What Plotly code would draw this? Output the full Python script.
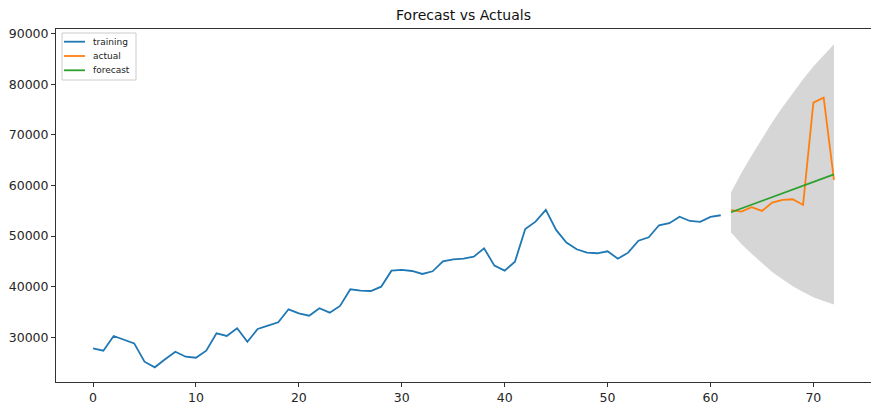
import plotly.graph_objects as go

# ---- data ----
train_x = list(range(0, 62))
train_y = [27800, 27350, 30260, 29600, 28800, 25180, 24070, 25650, 27150, 26170,
           25970, 27350, 30790, 30260, 31780, 29130, 31640, 32290, 32960, 35530,
           34740, 34270, 35730, 34860, 36200, 39490, 39210, 39150, 40000, 43160,
           43300, 43100, 42510, 43040, 45020, 45410, 45530, 45930, 47590, 44150,
           43160, 44940, 51400, 52850, 55160, 51210, 48700, 47390, 46720, 46600,
           46990, 45530, 46720, 49090, 49760, 52130, 52530, 53830, 52980, 52790,
           53780, 54110]

test_x = list(range(62, 73))
actual_y = [55100, 54820, 55690, 54960, 56600, 57130, 57270, 56150, 76360, 77350, 61090]
forecast_y = [54700, 55450, 56200, 56950, 57700, 58450, 59200, 59950, 60700, 61450, 62200]
upper_y = [58650, 62450, 65900, 69250, 72500, 75450, 78300, 80950, 83500, 85750, 87900]
lower_y = [50750, 48450, 46500, 44650, 42900, 41450, 40100, 38950, 37900, 37150, 36500]

x_ticks = [0, 10, 20, 30, 40, 50, 60, 70]
y_ticks = [30000, 40000, 50000, 60000, 70000, 80000, 90000]

series_names = ["training", "actual", "forecast"]
series_colors = ["#1f77b4", "#ff7f0e", "#2ca02c"]

FONT = "DejaVu Sans"
AX = "#333333"

fig = go.Figure()

# confidence band
fig.add_trace(go.Scatter(x=test_x, y=lower_y, mode="lines", line=dict(width=0),
                         showlegend=False, hoverinfo="skip"))
fig.add_trace(go.Scatter(x=test_x, y=upper_y, mode="lines", line=dict(width=0),
                         fill="tonexty", fillcolor="rgb(214,214,214)",
                         showlegend=False, hoverinfo="skip"))

for xs, ys, nm, col in [(train_x, train_y, series_names[0], series_colors[0]),
                        (test_x, actual_y, series_names[1], series_colors[1]),
                        (test_x, forecast_y, series_names[2], series_colors[2])]:
    fig.add_trace(go.Scatter(x=xs, y=ys, mode="lines", name=nm,
                             line=dict(color=col, width=1.8), showlegend=False))

axis_common = dict(showline=True, mirror=True, linecolor=AX, linewidth=1,
                   ticks="outside", ticklen=4, tickcolor=AX, tickwidth=1,
                   showgrid=False, zeroline=False,
                   tickfont=dict(family=FONT, size=12.5, color="#262626"))

fig.update_xaxes(range=[-3.6, 75.6], tickvals=x_ticks, **axis_common)
fig.update_yaxes(range=[21170, 90900], tickvals=y_ticks, ticktext=[str(v) for v in y_ticks],
                 **axis_common)

# compact matplotlib-style legend drawn in paper coordinates
PW, PH = 815.0, 353.0   # plot area size in px
def px_x(dx):  # px offset from plot left -> paper
    return dx / PW
def px_y(dy):  # px offset from plot top -> paper
    return 1 - dy / PH

shapes = [dict(type="rect", xref="paper", yref="paper",
               x0=px_x(6), x1=px_x(80), y0=px_y(51), y1=px_y(4),
               line=dict(color="#cccccc", width=1), fillcolor="rgba(255,255,255,0.85)",
               layer="above")]
annotations = []
for i, (nm, col) in enumerate(zip(series_names, series_colors)):
    yy = px_y(12.7 + i * 14.3)
    shapes.append(dict(type="line", xref="paper", yref="paper",
                       x0=px_x(8), x1=px_x(29), y0=yy, y1=yy,
                       line=dict(color=col, width=1.8), layer="above"))
    annotations.append(dict(text=nm, xref="paper", yref="paper", x=px_x(35), y=yy,
                            xanchor="left", yanchor="middle", showarrow=False,
                            font=dict(family=FONT, size=9, color="#222222")))

# page body has an 8px margin, so the figure is sized to fit inside it
fig.update_layout(
    width=864, height=400,
    margin=dict(l=48, r=1, t=21, b=26),
    paper_bgcolor="white", plot_bgcolor="white",
    title=dict(text="Forecast vs Actuals", x=0.5, xref="paper", xanchor="center",
               y=1 - 2.5 / 400, yref="container", yanchor="top",
               font=dict(family=FONT, size=14, color="#111111")),
    shapes=shapes, annotations=annotations,
    showlegend=False,
)

fig.write_html("out.html")
